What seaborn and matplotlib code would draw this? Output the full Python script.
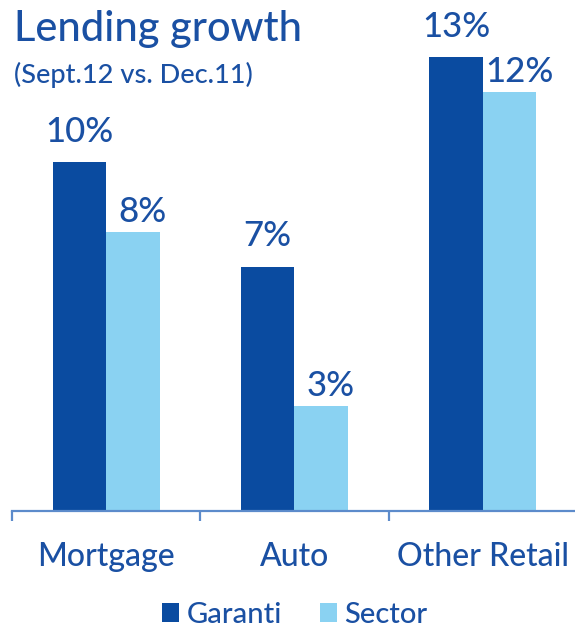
import matplotlib
matplotlib.use("Agg")
import matplotlib.pyplot as plt
from matplotlib.patches import Patch
import seaborn as sns
import pandas as pd

categories = ["Mortgage", "Auto", "Other Retail"]
series_names = ["Garanti", "Sector"]
garanti = [10, 7, 13]
sector = [8, 3, 12]
value_labels_garanti = ["10%", "7%", "13%"]
value_labels_sector = ["8%", "3%", "12%"]
title = "Lending growth"
subtitle = "(Sept.12 vs. Dec.11)"

DARK = "#0A4BA0"
LIGHT = "#8AD2F2"
TEXT = "#1A50A3"
AXIS = "#5C8BCB"

sns.set_theme(style="white")
plt.rcParams["font.family"] = ["Lato", "DejaVu Sans"]
plt.rcParams["font.weight"] = 500

df = pd.DataFrame({
    "category": categories * 2,
    "series": [series_names[0]] * 3 + [series_names[1]] * 3,
    "value": garanti + sector,
})

W, H = 575, 631
fig = plt.figure(figsize=(W / 100, H / 100), dpi=100)
ax = fig.add_axes([12 / W, (H - 511) / H, 565 / W, 511 / H])

sns.barplot(data=df, x="category", y="value", hue="series",
            palette=[DARK, LIGHT], saturation=1, width=0.568,
            linewidth=0, legend=False, ax=ax, errorbar=None)

ax.set_xlim(-0.5, 2.5)
ax.set_ylim(0, 14.63)
ax.set_xlabel("")
ax.set_ylabel("")
ax.set_yticks([])
for s in ["left", "top", "right"]:
    ax.spines[s].set_visible(False)
ax.spines["bottom"].set_color(AXIS)
ax.spines["bottom"].set_linewidth(1.6)

ax.set_xticks([0, 1, 2])
ax.set_xticklabels(categories)
ax.set_xticks([-0.5, 0.5, 1.5, 2.5], minor=True)
ax.tick_params(axis="x", which="major", length=0, pad=22,
               labelsize=23, labelcolor=TEXT)
ax.tick_params(axis="x", which="minor", length=7, width=1.6,
               color=AXIS, direction="out", bottom=True)

labels = [value_labels_garanti, value_labels_sector]
gaps = [14.5, 7.2]
shifts = [0, 7]
for ci, cont in enumerate(ax.containers):
    for pi, patch in enumerate(cont.patches):
        xc = patch.get_x() + patch.get_width() / 2
        ax.annotate(labels[ci][pi], (xc, patch.get_height()),
                    xytext=(shifts[ci], gaps[ci]), textcoords="offset points",
                    ha="center", va="baseline", fontsize=25,
                    color=TEXT, annotation_clip=False)

fig.text(14 / W, 1 - 41 / H, title, fontsize=30, color=TEXT,
         ha="left", va="baseline")
fig.text(14 / W, 1 - 83 / H, subtitle, fontsize=19.5, color=TEXT,
         ha="left", va="baseline")

handles = [Patch(facecolor=DARK, edgecolor="none"),
           Patch(facecolor=LIGHT, edgecolor="none")]
fig.legend(handles, series_names, loc="center",
           bbox_to_anchor=(294.5 / W, 1 - 615 / H), ncol=2, frameon=False,
           fontsize=21, labelcolor=TEXT, handlelength=0.6, handleheight=0.6,
           handletextpad=0.25, columnspacing=1.3, borderpad=0, borderaxespad=0)

fig.savefig("out.png", dpi=100)
